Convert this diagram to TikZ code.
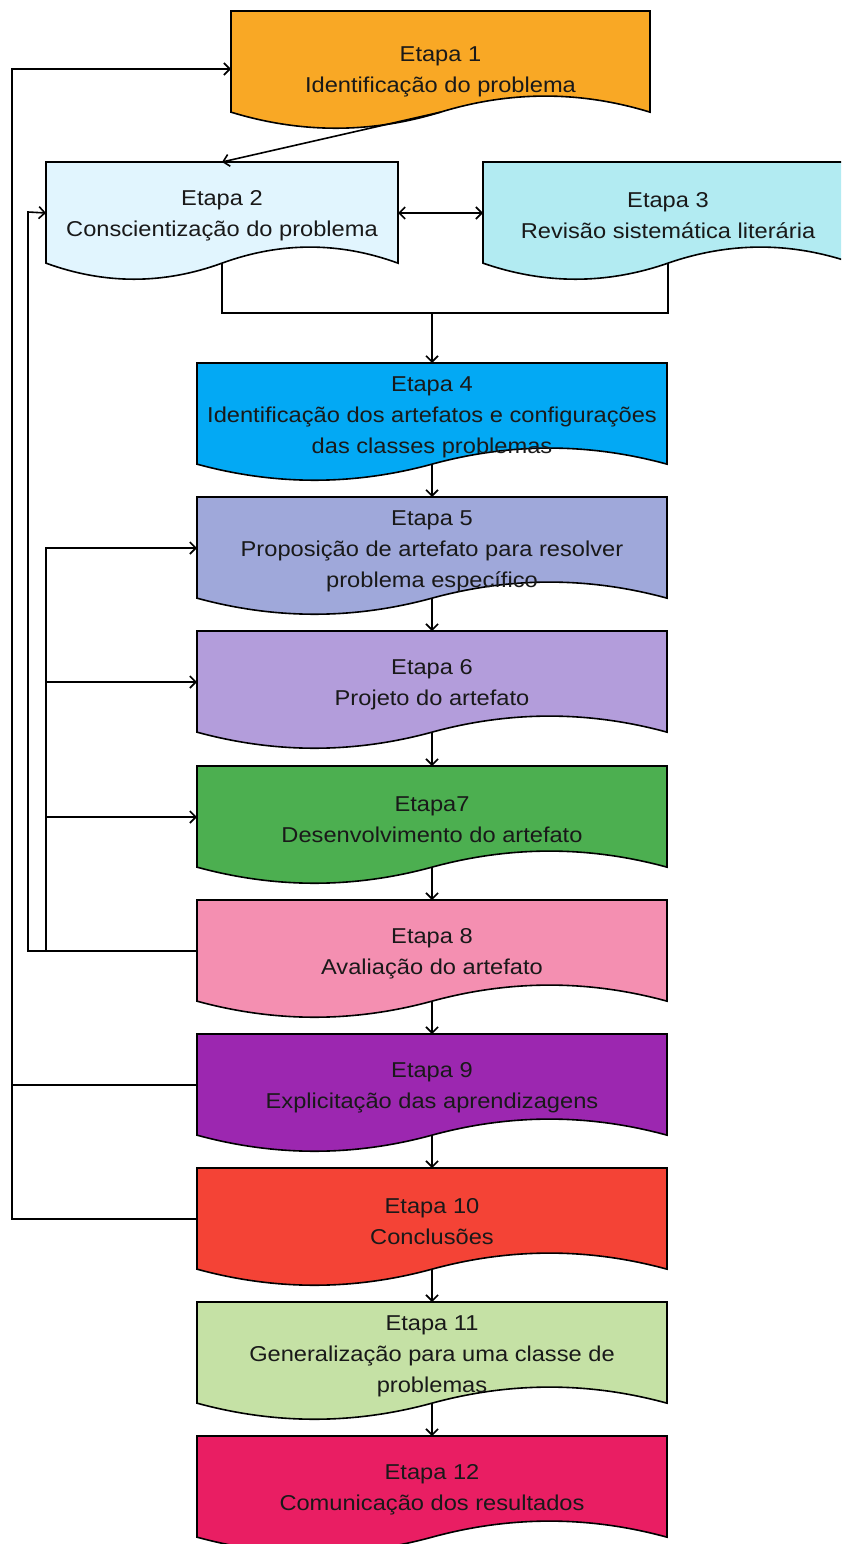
\documentclass[tikz,border=0pt]{standalone}
\usepackage{fontspec}
\setmainfont{Liberation Sans}[FakeStretch=1.1]
\usetikzlibrary{arrows.meta}
\definecolor{c1}{HTML}{F9A825}
\definecolor{c2}{HTML}{E1F5FE}
\definecolor{c3}{HTML}{B2EBF2}
\definecolor{c4}{HTML}{03A9F4}
\definecolor{c5}{HTML}{9FA8DA}
\definecolor{c6}{HTML}{B39DDB}
\definecolor{c7}{HTML}{4CAF50}
\definecolor{c8}{HTML}{F48FB1}
\definecolor{c9}{HTML}{9C27B0}
\definecolor{c10}{HTML}{F44336}
\definecolor{c11}{HTML}{C5E1A5}
\definecolor{c12}{HTML}{E91E63}
\tikzset{
  boxline/.style={draw=black, line width=1.6pt, line join=miter},
  docframe/.style={draw=none, fill=none, inner sep=0pt, outer sep=0pt},
  steptext/.style={align=center, inner sep=0pt, font=\fontsize{21.5}{31}\selectfont, text=black!90},
  conn/.style={draw=black, line width=1.6pt},
  arr/.style={conn, -{Straight Barb[length=6pt,width=12pt,line width=1.6pt]}},
  darr/.style={conn, {Straight Barb[length=6pt,width=12pt,line width=1.6pt]}-{Straight Barb[length=6pt,width=12pt,line width=1.6pt]}}
}
\newcommand{\docnode}[8]{%
  \pgfmathsetmacro\docdy{0.3*#5}
  \filldraw[boxline, fill=#6] (#2,#3) -- (#2+#4,#3) -- (#2+#4,#3+#5-0.5*\docdy)
    .. controls (#2+5*#4/6,#3+#5-1.1*\docdy) and (#2+2*#4/3,#3+#5-1.1*\docdy) .. (#2+#4/2,#3+#5-0.5*\docdy)
    .. controls (#2+#4/3,#3+#5+0.1*\docdy) and (#2+#4/6,#3+#5+0.1*\docdy) .. (#2,#3+#5-0.5*\docdy) -- cycle;
  \node[docframe, minimum width=#4pt, minimum height=#5pt, anchor=north west] (#1) at (#2,#3) {};
  \node[steptext] (#1-t) at (#2+#4/2,#3+#7+3) {#8};
  \coordinate (#1-b) at (#2+#4/2,#3+#5-0.5*\docdy);
  \coordinate (#1-l) at (#2,#3+#7);
  \coordinate (#1-r) at (#2+#4,#3+#7);
}
\begin{document}
\begin{tikzpicture}[x=1pt,y=-1pt]
\useasboundingbox (0,0) rectangle (841,1544);
\fill[white] (0,0) rectangle (841,1544);
\clip (0,0) rectangle (841,1544);

\docnode{e1}{231}{11}{419}{119}{c1}{58}{Etapa 1\\Identificação do problema}
\docnode{e2}{46}{162}{352}{119}{c2}{51}{Etapa 2\\Conscientização do problema}
\docnode{e3}{483}{162}{370}{119}{c3}{51}{Etapa 3\\Revisão sistemática literária}
\docnode{e4}{197}{363}{470}{119}{c4}{51}{Etapa 4\\Identificação dos artefatos e configurações\\das classes problemas}
\docnode{e5}{197}{497}{470}{119}{c5}{51}{Etapa 5\\Proposição de artefato para resolver\\problema específico}
\docnode{e6}{197}{631}{470}{119}{c6}{51}{Etapa 6\\Projeto do artefato}
\docnode{e7}{197}{766}{470}{119}{c7}{51}{Etapa7\\Desenvolvimento do artefato}
\docnode{e8}{197}{900}{470}{119}{c8}{51}{Etapa 8\\Avaliação do artefato}
\docnode{e9}{197}{1034}{470}{119}{c9}{51}{Etapa 9\\Explicitação das aprendizagens}
\docnode{e10}{197}{1168}{470}{119}{c10}{51}{Etapa 10\\Conclusões}
\docnode{e11}{197}{1302}{470}{119}{c11}{51}{Etapa 11\\Generalização para uma classe de\\problemas}
\docnode{e12}{197}{1436}{470}{119}{c12}{51}{Etapa 12\\Comunicação dos resultados}

% top connectors
\draw[arr] (e1-b) -- (e2.north);
\draw[darr] (e2-r) -- (e3-l);
\coordinate (j) at (432,313);
\draw[conn] (e2-b) |- (j) -| (e3-b);
\draw[arr] (j) -- (e4.north);

% vertical chain
\draw[arr] (e4-b) -- (e5.north);
\draw[arr] (e5-b) -- (e6.north);
\draw[arr] (e6-b) -- (e7.north);
\draw[arr] (e7-b) -- (e8.north);
\draw[arr] (e8-b) -- (e9.north);
\draw[arr] (e9-b) -- (e10.north);
\draw[arr] (e10-b) -- (e11.north);
\draw[arr] (e11-b) -- (e12.north);

% feedback loops
\coordinate (L1) at (12,69);
\coordinate (L2) at (28,212);
\coordinate (B3) at (46,950);
\draw[arr] (e10-l) -| (L1) -- (e1-l);
\draw[conn] (e9-l) -- (e9-l -| L1);
\draw[arr] (e8-l) -| (L2) -- (e2-l);
\draw[arr] (B3) |- (e5-l);
\draw[arr] (B3) |- (e6-l);
\draw[arr] (B3) |- (e7-l);
\end{tikzpicture}
\end{document}
